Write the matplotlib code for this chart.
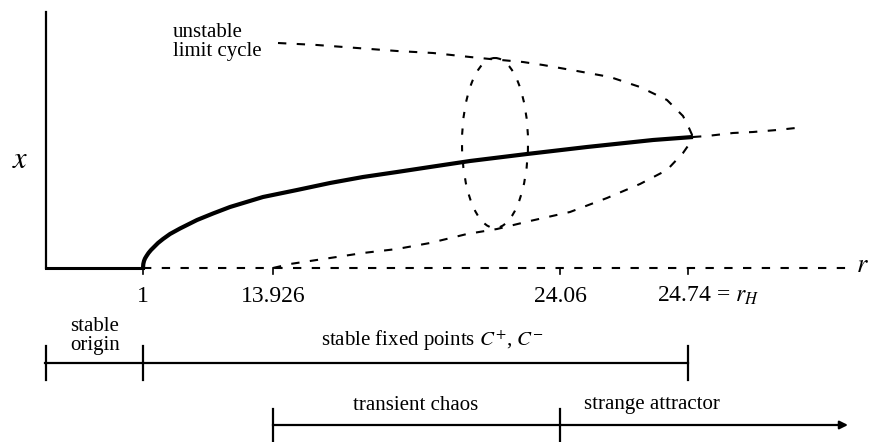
import matplotlib
import matplotlib.pyplot as plt
from matplotlib.patches import Ellipse

matplotlib.use("Agg")

plt.rcParams["font.family"] = ["Liberation Serif", "DejaVu Serif"]
plt.rcParams["mathtext.fontset"] = "stix"

# schematic r-axis: tick positions (drawing units) and their labels
r_ticks = [143, 273, 560, 688]
r_labels = ["1", "13.926", "24.06", "24.74"]

# stable fixed points C+, C- (solid branch)
stable_r = [143, 143.3, 144, 145, 146.5, 148.5, 151, 154, 158, 163, 170, 180,
            197, 213, 230, 263, 297, 330, 363, 397, 430, 470, 527, 587, 653,
            693]
stable_x = [268, 264, 261, 258.5, 256, 253, 250, 247, 243, 239, 234, 228.5,
            220, 213.5, 207, 197, 190, 183, 177, 172, 167, 161, 154, 147, 140,
            137]

# unstable limit cycle, upper and lower branches
upper_r = [278, 317, 357, 397, 433, 470, 490, 523, 543, 577, 610, 640, 667,
           683, 689, 693]
upper_x = [43, 45, 48, 51, 53, 57, 59, 62, 65, 71, 77, 87, 100, 116, 128, 137]
lower_r = [273, 290, 310, 330, 363, 397, 430, 467, 497, 530, 570, 607, 640,
           667, 683, 690, 693]
lower_x = [268, 264, 261, 258, 253, 249, 243, 234, 229, 221, 212, 198, 184,
           170, 153, 143, 137]

# unstable fixed points past the Hopf point
past_r = [693, 707, 733, 753, 777, 805]
past_x = [137, 136, 133, 132, 130, 127]

# regime bars: (start, end, row y)
bars = [(45, 143, 363), (143, 688, 363), (273, 560, 425)]

fig = plt.figure(figsize=(8.7, 4.42), dpi=100)
ax = fig.add_axes([0, 0, 1, 1])
ax.set_xlim(0, 870)
ax.set_ylim(442, 0)
ax.axis("off")

dash = dict(color="k", linewidth=1.5, linestyle=(0, (4, 5)))

# axes
ax.plot([46, 46], [12, 268], color="k", linewidth=1.6)
ax.plot([46, 143], [268, 268], color="k", linewidth=2.2)
ax.plot([143, 848], [268, 268], **dash)
for t in r_ticks:
    ax.plot([t, t], [268, 274], color="k", linewidth=1.2)

# branches
ax.plot(stable_r, stable_x, color="k", linewidth=3.0, solid_capstyle="butt",
        solid_joinstyle="round")
ax.plot(upper_r, upper_x, **dash)
ax.plot(lower_r, lower_x, **dash)
ax.plot(past_r, past_x, **dash)
ax.add_patch(Ellipse((495, 143), 66, 170, fill=False, edgecolor="k",
                     linewidth=1.5, linestyle=(0, (3, 5))))

# tick labels
for t, lab in zip(r_ticks[:3], r_labels[:3]):
    ax.text(t, 296, lab, ha="center", va="center", fontsize=17)
ax.text(r_ticks[3] - 31, 296, r_labels[3] + r" = $r_H$", ha="left",
        va="center", fontsize=17)

ax.text(20, 160, "$x$", ha="center", va="center", fontsize=22)
ax.text(856, 266, "$r$", ha="left", va="center", fontsize=19)
ax.text(173, 42, "unstable\nlimit cycle", ha="left", va="center",
        fontsize=15, linespacing=0.95)

# regime bars
for a, b, y in bars:
    ax.plot([a, b], [y, y], color="k", linewidth=1.6)
for t in [46, 143, 688]:
    ax.plot([t, t], [346, 380], color="k", linewidth=1.6)
for t in [273, 560]:
    ax.plot([t, t], [409, 442], color="k", linewidth=1.6)
ax.annotate("", xy=(848, 425), xytext=(560, 425),
            arrowprops=dict(arrowstyle="-|>", color="k", lw=1.6,
                            mutation_scale=12, shrinkA=0, shrinkB=0))

ax.text(95, 336, "stable\norigin", ha="center", va="center", fontsize=15,
        linespacing=0.95)
ax.text(432, 341, "stable fixed points $C^{+}$, $C^{-}$", ha="center",
        va="center", fontsize=15)
ax.text(416, 405, "transient chaos", ha="center", va="center", fontsize=15)
ax.text(652, 404, "strange attractor", ha="center", va="center", fontsize=15)

fig.savefig("out.png", dpi=100)
